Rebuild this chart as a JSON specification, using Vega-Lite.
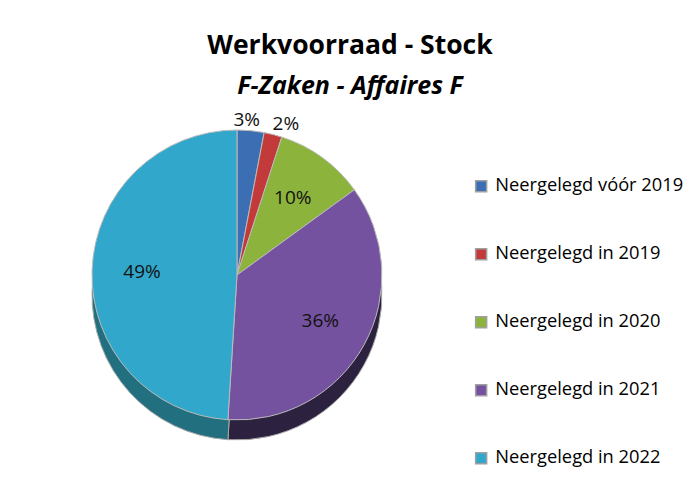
{
  "$schema": "https://vega.github.io/schema/vega-lite/v6.json",
  "autosize": "none",
  "width": 400,
  "height": 290,
  "padding": {"left": 37, "top": 130, "right": 257, "bottom": 72},
  "background": "white",
  "config": {"view": {"stroke": null}, "font": "Open Sans"},
  "title": {
    "text": "Werkvoorraad - Stock",
    "subtitle": "F-Zaken - Affaires F",
    "fontSize": 26.5,
    "font": "Open Sans",
    "fontWeight": "bold",
    "color": "#000000",
    "subtitleFontSize": 25,
    "subtitleFont": "Open Sans",
    "subtitleFontWeight": "bold",
    "subtitleFontStyle": "italic",
    "subtitleColor": "#000000",
    "subtitlePadding": 14,
    "anchor": "middle",
    "dx": 113,
    "offset": 12
  },
  "data": {
    "values": [
      {"category": "Neergelegd vóór 2019", "value": 0.03, "rank": 1},
      {"category": "Neergelegd in 2019", "value": 0.02, "rank": 2},
      {"category": "Neergelegd in 2020", "value": 0.10, "rank": 3},
      {"category": "Neergelegd in 2021", "value": 0.36, "rank": 4},
      {"category": "Neergelegd in 2022", "value": 0.49, "rank": 5}
    ]
  },
  "layer": [
    {
      "mark": {"type": "arc", "yOffset": 20, "stroke": "#AAAAAA", "strokeWidth": 1},
      "encoding": {
        "theta": {"field": "value", "type": "quantitative", "stack": true},
        "order": {"field": "rank", "type": "quantitative"},
        "color": {
          "field": "category",
          "type": "nominal",
          "scale": {
            "domain": ["Neergelegd vóór 2019", "Neergelegd in 2019", "Neergelegd in 2020", "Neergelegd in 2021", "Neergelegd in 2022"],
            "range": ["#1F3A5F", "#6B1F1F", "#4A6020", "#2D2140", "#22707F"]
          },
          "legend": null
        }
      }
    },
    {
      "mark": {"type": "arc", "stroke": "#BBBBBB", "strokeWidth": 1},
      "encoding": {
        "theta": {"field": "value", "type": "quantitative", "stack": true},
        "order": {"field": "rank", "type": "quantitative"},
        "color": {
          "field": "category",
          "type": "nominal",
          "scale": {
            "domain": ["Neergelegd vóór 2019", "Neergelegd in 2019", "Neergelegd in 2020", "Neergelegd in 2021", "Neergelegd in 2022"],
            "range": ["#3C6EB4", "#C23B3A", "#8CB43C", "#7552A0", "#31A8CB"]
          },
          "legend": {
            "orient": "none",
            "legendX": 435,
            "legendY": 47,
            "title": null,
            "symbolType": "square",
            "symbolSize": 121,
            "symbolStrokeColor": "#A0A0A0",
            "symbolStrokeWidth": 1.5,
            "labelFontSize": 18.3,
            "labelFont": "Open Sans",
            "labelColor": "#000000",
            "labelOffset": 5,
            "rowPadding": 49,
            "padding": 0,
            "labelLimit": 300
          }
        }
      }
    },
    {
      "mark": {"type": "text", "radius": 95, "fontSize": 19, "font": "Open Sans", "color": "#111111"},
      "encoding": {
        "theta": {"field": "value", "type": "quantitative", "stack": true},
        "order": {"field": "rank", "type": "quantitative"},
        "text": {"field": "value", "type": "quantitative", "format": ".0%"},
        "opacity": {"condition": {"test": "datum.value < 0.05", "value": 0}, "value": 1}
      }
    },
    {
      "mark": {"type": "text", "radius": 156, "dx": -5, "fontSize": 19, "font": "Open Sans", "color": "#111111"},
      "encoding": {
        "theta": {"field": "value", "type": "quantitative", "stack": true},
        "order": {"field": "rank", "type": "quantitative"},
        "text": {"field": "value", "type": "quantitative", "format": ".0%"},
        "opacity": {"condition": {"test": "datum.rank == 1", "value": 1}, "value": 0}
      }
    },
    {
      "mark": {"type": "text", "radius": 156, "dx": 10, "fontSize": 19, "font": "Open Sans", "color": "#111111"},
      "encoding": {
        "theta": {"field": "value", "type": "quantitative", "stack": true},
        "order": {"field": "rank", "type": "quantitative"},
        "text": {"field": "value", "type": "quantitative", "format": ".0%"},
        "opacity": {"condition": {"test": "datum.rank == 2", "value": 1}, "value": 0}
      }
    }
  ],
  "resolve": {"scale": {"color": "independent"}}
}
